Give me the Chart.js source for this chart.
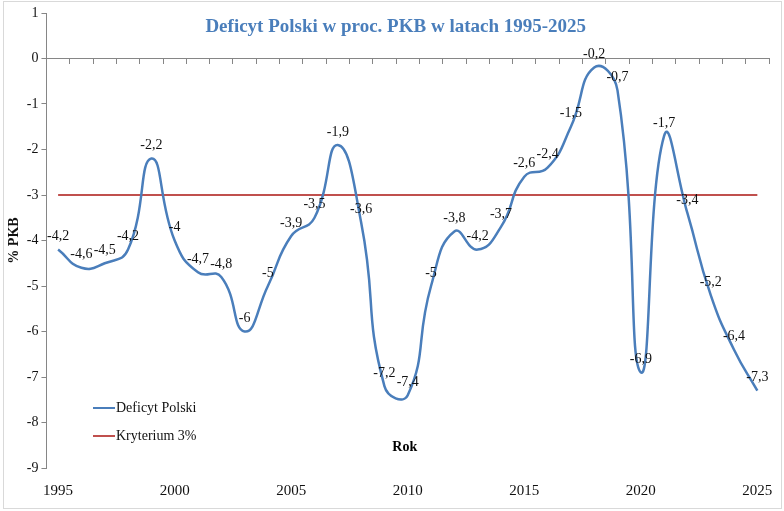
<!DOCTYPE html>
<html>
<head>
<meta charset="utf-8">
<script src="https://cdn.jsdelivr.net/npm/chart.js@4.4.0/dist/chart.umd.min.js"></script>
<style>
  html, body { margin: 0; padding: 0; background: #fff; }
  #wrap { position: relative; width: 784px; height: 511px; }
</style>
</head>
<body>
<div id="wrap"><canvas id="deficitChart"></canvas></div>
<script>
// data
const years = [1995, 1996, 1997, 1998, 1999, 2000, 2001, 2002, 2003, 2004, 2005, 2006, 2007, 2008, 2009, 2010,
               2011, 2012, 2013, 2014, 2015, 2016, 2017, 2018, 2019, 2020, 2021, 2022, 2023, 2024, 2025];
const deficyt = [-4.2, -4.6, -4.5, -4.2, -2.2, -4, -4.7, -4.8, -6, -5, -3.9, -3.5, -1.9, -3.6, -7.2, -7.4,
                 -5, -3.8, -4.2, -3.7, -2.6, -2.4, -1.5, -0.2, -0.7, -6.9, -1.7, -3.4, -5.2, -6.4, -7.3];
const kryterium = [-3, -3, -3, -3, -3, -3, -3, -3, -3, -3, -3, -3, -3, -3, -3, -3,
                   -3, -3, -3, -3, -3, -3, -3, -3, -3, -3, -3, -3, -3, -3, -3];
const yMin = -9;
const yMax = 1;

const serif = '"Liberation Serif", "Times New Roman", serif';
const blue = '#4a7ebb';
const red = '#c0504d';
const axisGray = '#868686';

// title, axis title, legend and value labels drawn over the plot area
const overlay = {
  id: 'overlay',
  beforeDraw(chart) {
    const ctx = chart.ctx;
    ctx.save();
    ctx.strokeStyle = '#d9d9d9';
    ctx.lineWidth = 1;
    ctx.strokeRect(3.5, 1.5, chart.width - 6, chart.height - 4);
    ctx.restore();
  },
  afterDraw(chart) {
    const ctx = chart.ctx;
    const area = chart.chartArea;
    ctx.save();

    ctx.fillStyle = blue;
    ctx.font = 'bold 19px ' + serif;
    ctx.textAlign = 'center';
    ctx.textBaseline = 'middle';
    ctx.fillText('Deficyt Polski w proc. PKB w latach 1995-2025', (area.left + area.right) / 2 - 12, 27);

    ctx.fillStyle = '#000';
    ctx.font = 'bold 14px ' + serif;
    ctx.fillText('Rok', (area.left + area.right) / 2 - 3, 447);

    // value labels
    ctx.font = '14px ' + serif;
    ctx.fillStyle = '#111';
    const meta = chart.getDatasetMeta(0);
    meta.data.forEach((pt, i) => {
      ctx.fillText(String(deficyt[i]).replace('.', ','), pt.x, pt.y - 13);
    });

    // legend
    const items = chart.data.datasets;
    ctx.textAlign = 'left';
    ctx.font = '14px ' + serif;
    items.forEach((ds, i) => {
      const y = 408 + i * 28;
      ctx.strokeStyle = ds.borderColor;
      ctx.lineWidth = 2;
      ctx.beginPath();
      ctx.moveTo(93, y);
      ctx.lineTo(115, y);
      ctx.stroke();
      ctx.fillStyle = '#111';
      ctx.fillText(ds.label, 116, y);
    });
    ctx.restore();
  }
};

const ctx = document.getElementById('deficitChart').getContext('2d');
const deficitChart = new Chart(ctx, {
  type: 'line',
  data: {
    labels: years.map(String),
    datasets: [
      {
        label: 'Deficyt Polski',
        data: deficyt,
        borderColor: blue,
        borderWidth: 2.5,
        pointRadius: 0,
        tension: 0.5,
        xAxisID: 'x'
      },
      {
        label: 'Kryterium 3%',
        data: kryterium,
        borderColor: red,
        borderWidth: 2,
        pointRadius: 0,
        tension: 0,
        xAxisID: 'x'
      }
    ]
  },
  options: {
    responsive: true,
    maintainAspectRatio: false,
    animation: false,
    layout: {
      padding: { left: 6, right: 15, top: 13, bottom: 5 }
    },
    plugins: {
      legend: { display: false },
      title: { display: false },
      tooltip: { enabled: false }
    },
    scales: {
      x: {
        type: 'category',
        position: { y: 0 },
        offset: true,
        grid: { display: true, drawOnChartArea: false, drawTicks: true, tickLength: 5, color: axisGray, offset: true },
        border: { display: true, color: axisGray, width: 1 },
        ticks: { display: false }
      },
      x2: {
        type: 'category',
        position: 'bottom',
        offset: true,
        grid: { display: false },
        border: { display: false },
        ticks: {
          autoSkip: false,
          maxRotation: 0,
          padding: 6,
          color: '#111',
          font: { family: serif, size: 15 },
          callback: (v, i) => (years[i] % 5 === 0 ? String(years[i]) : '')
        }
      },
      y: {
        min: yMin,
        max: yMax,
        grid: { display: true, drawOnChartArea: false, drawTicks: true, tickLength: 5, color: axisGray },
        border: { display: true, color: axisGray, width: 1 },
        ticks: {
          stepSize: 1,
          padding: 3,
          color: '#111',
          font: { family: serif, size: 14 }
        },
        title: {
          display: true,
          text: '% PKB',
          color: '#111',
          font: { family: serif, size: 14, weight: 'bold' },
          padding: { top: 0, bottom: 1 }
        }
      }
    }
  },
  plugins: [overlay]
});
</script>
</body>
</html>
